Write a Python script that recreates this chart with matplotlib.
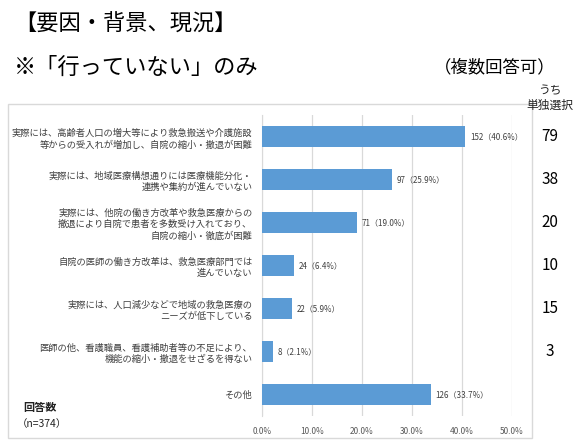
import matplotlib
matplotlib.use("Agg")
import matplotlib.pyplot as plt
from matplotlib.patches import Rectangle

plt.rcParams['font.family'] = ['Noto Sans CJK JP', 'DejaVu Sans']

categories = [
    "実際には、高齢者人口の増大等により救急搬送や介護施設\n等からの受入れが増加し、自院の縮小・撤退が困難",
    "実際には、地域医療構想通りには医療機能分化・\n連携や集約が進んでいない",
    "実際には、他院の働き方改革や救急医療からの\n撤退により自院で患者を多数受け入れており、\n自院の縮小・徹底が困難",
    "自院の医師の働き方改革は、救急医療部門では\n進んでいない",
    "実際には、人口減少などで地域の救急医療の\nニーズが低下している",
    "医師の他、看護職員、看護補助者等の不足により、\n機能の縮小・撤退をせざるを得ない",
    "その他",
]
counts = [152, 97, 71, 24, 22, 8, 126]
percents = [40.6, 25.9, 19.0, 6.4, 5.9, 2.1, 33.7]
single_choice = [79, 38, 20, 10, 15, 3, None]
xticks = [0, 10, 20, 30, 40, 50]
xtick_labels = ["0.0%", "10.0%", "20.0%", "30.0%", "40.0%", "50.0%"]

W, H = 581, 442
fig = plt.figure(figsize=(W / 100, H / 100), dpi=100)

# chart border box
fig.patches.append(Rectangle((8 / W, 1 - 438 / H), (532 - 8) / W, (438 - 104) / H,
                             transform=fig.transFigure, fill=False,
                             edgecolor='#D9D9D9', linewidth=1.0))

ax = fig.add_axes([262 / W, 1 - 416 / H, (512 - 262) / W, (416 - 115) / H])
n = len(categories)
ypos = list(range(n))
ax.barh(ypos, percents, height=0.5, color='#5B9BD5', zorder=3)
ax.set_xlim(0, 50)
ax.set_ylim(n - 0.5, -0.5)
ax.set_xticks(xticks)
ax.set_xticklabels(xtick_labels, fontsize=6, color='#595959')
ax.set_yticks(ypos)
ax.set_yticklabels(categories, fontsize=6.7, color='#404040', linespacing=1.35)
ax.tick_params(axis='both', length=0, pad=7)
ax.tick_params(axis='x', pad=8)
ax.grid(axis='x', color='#D9D9D9', linewidth=0.9, zorder=0)
for s in ['top', 'right', 'bottom']:
    ax.spines[s].set_visible(False)
ax.spines['left'].set_color('#D9D9D9')

for i, (c, p) in enumerate(zip(counts, percents)):
    ax.text(p + 1.0, i, f"{c}（{p:.1f}%）", va='center', ha='left',
            fontsize=5.8, color='#404040')

# right column
for i, v in enumerate(single_choice):
    if v is None:
        continue
    yd = ax.transData.transform((0, i))[1]
    yf = fig.transFigure.inverted().transform((0, yd))[1]
    fig.text(550 / W, yf, str(v), ha='center', va='center', fontsize=11, color='black')

fig.text(550 / W, 1 - 91 / H, "うち", ha='center', va='center', fontsize=8.5, color='#222222')
fig.text(550 / W, 1 - 105 / H, "単独選択", ha='center', va='center', fontsize=8.5, color='#222222')

fig.text(14 / W, 1 - 24 / H, "【要因・背景、現況】", ha='left', va='center', fontsize=16, color='black')
fig.text(14 / W, 1 - 67 / H, "※「行っていない」のみ", ha='left', va='center', fontsize=16, color='black')
fig.text(556 / W, 1 - 67 / H, "（複数回答可）", ha='right', va='center', fontsize=12.5, color='black')

fig.text(40 / W, 1 - 408 / H, "回答数", ha='center', va='center', fontsize=8,
         fontweight='bold', color='#222222')
fig.text(17 / W, 1 - 424 / H, "（n=374）", ha='left', va='center', fontsize=7.5, color='#222222')

fig.savefig("out.png", dpi=100)
